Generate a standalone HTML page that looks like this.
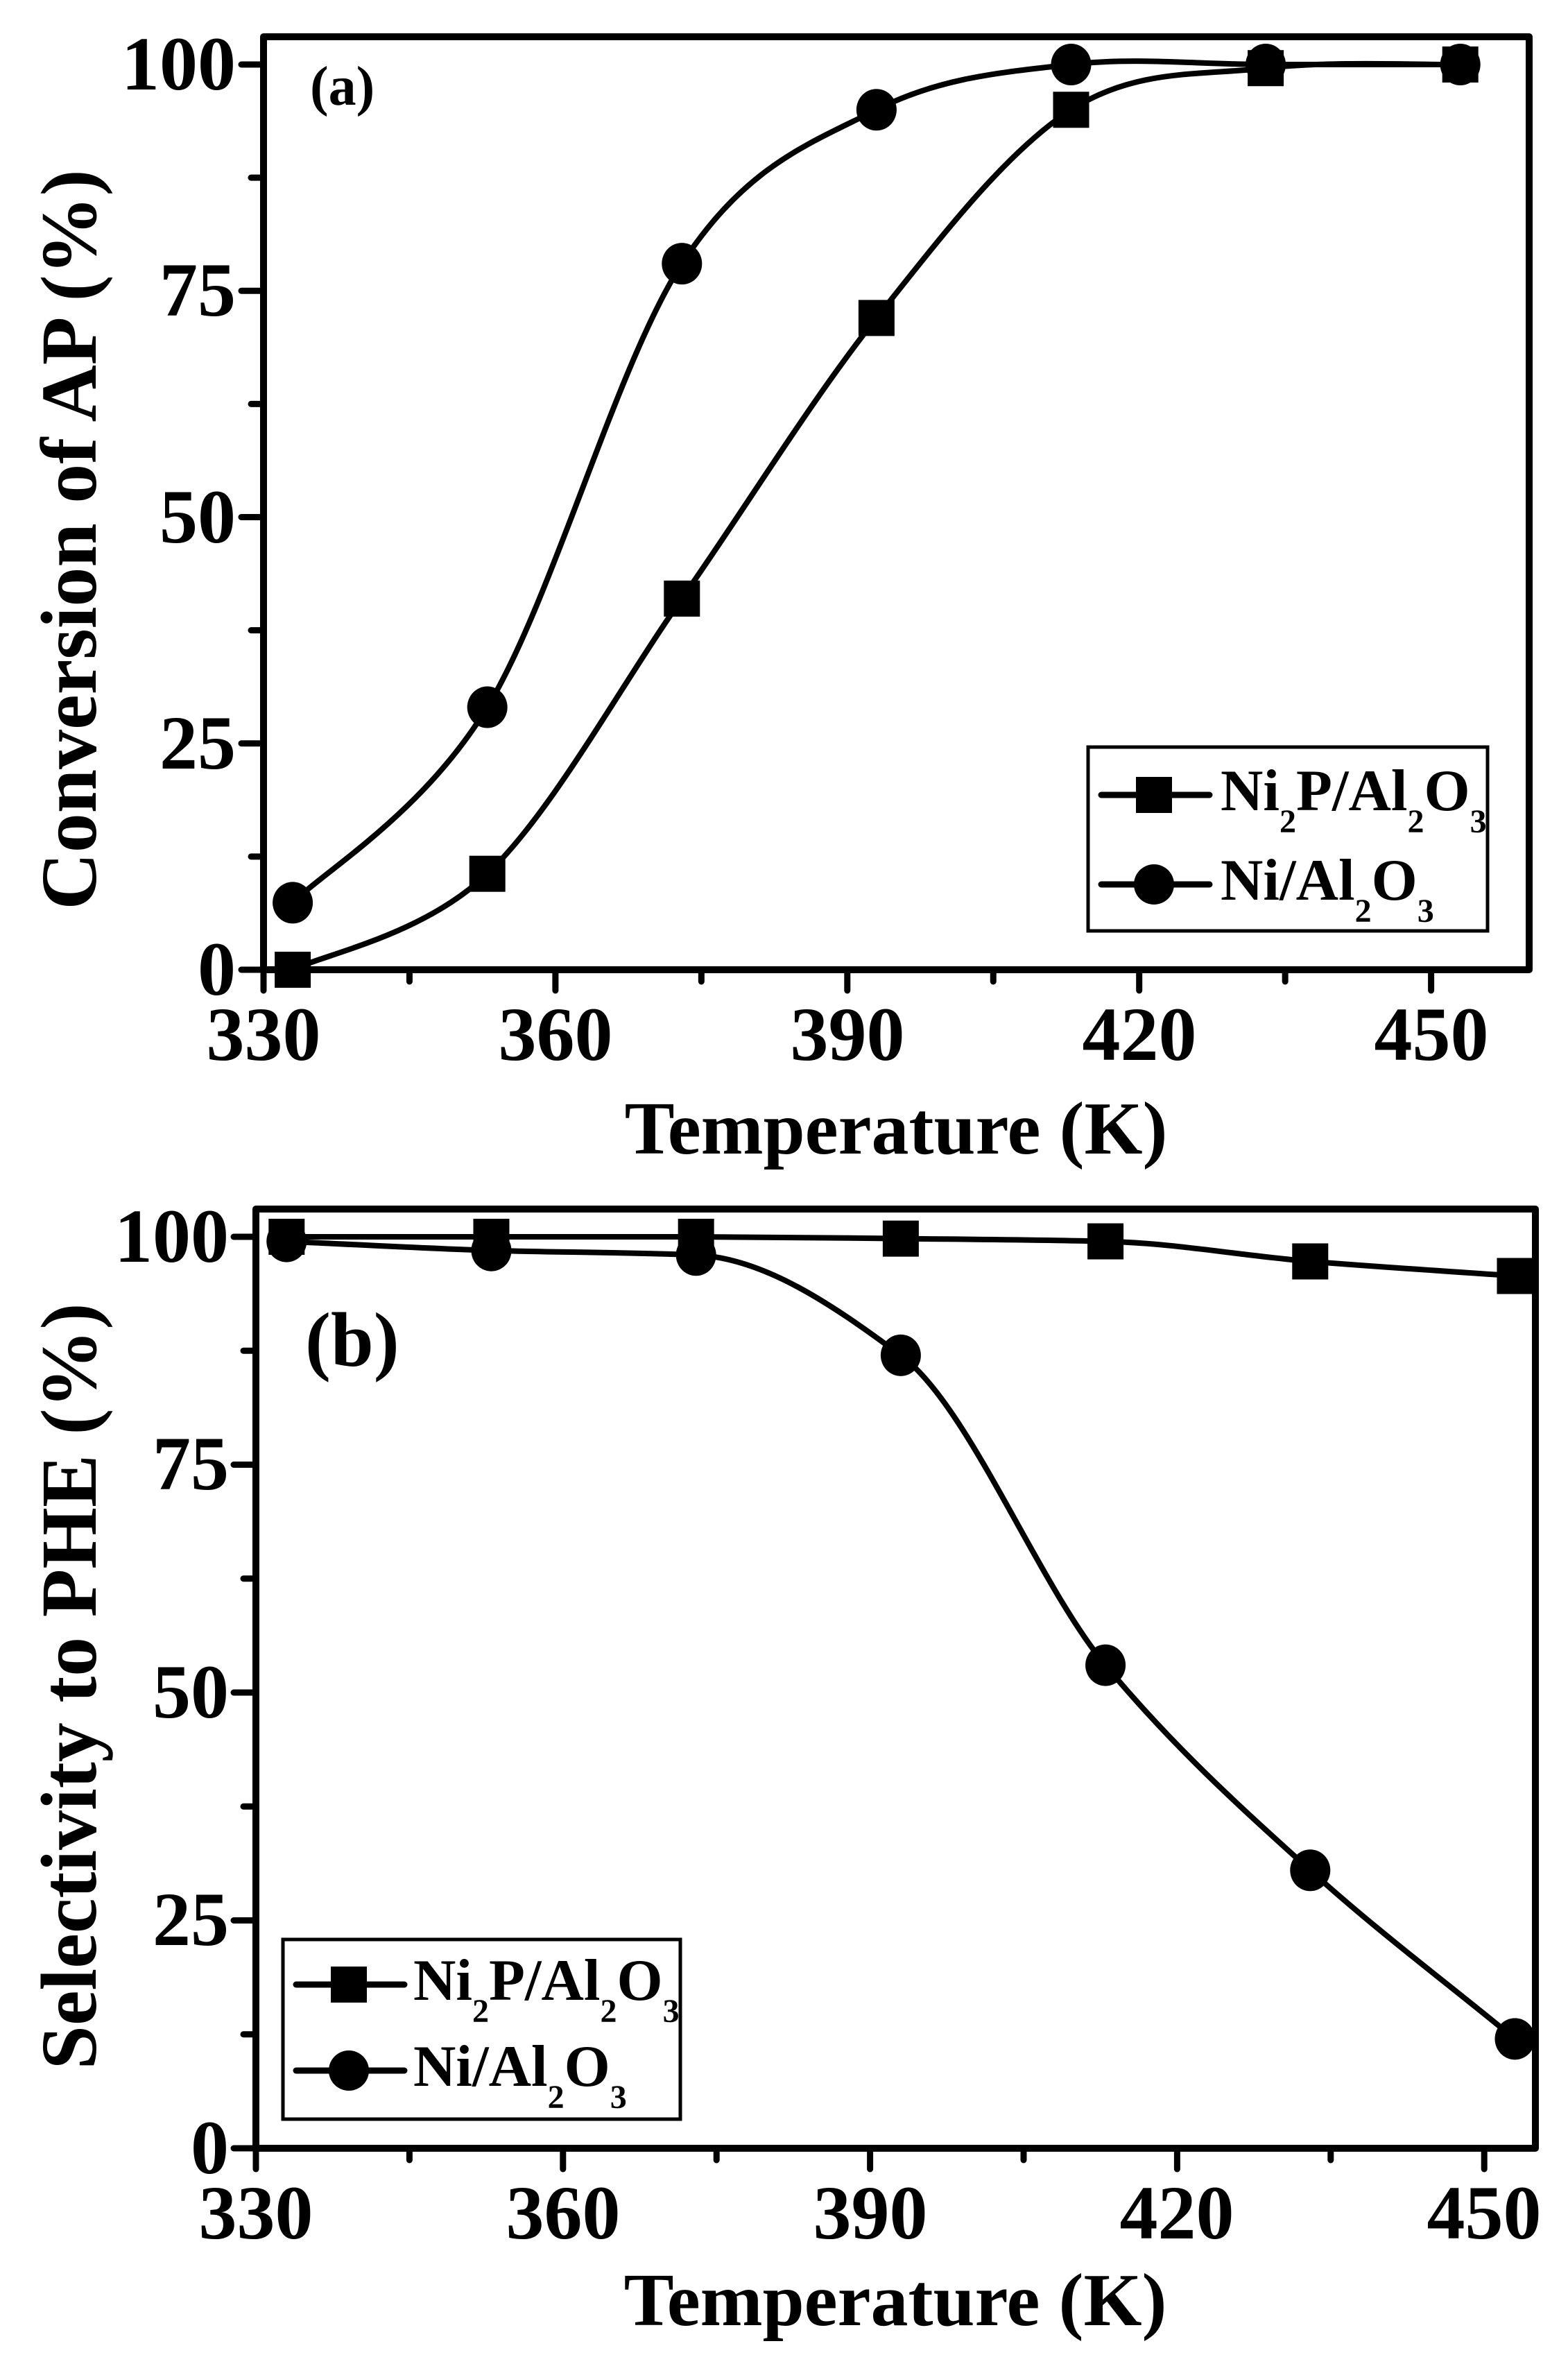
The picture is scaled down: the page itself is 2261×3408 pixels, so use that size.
<!DOCTYPE html>
<html><head><meta charset="utf-8"><style>
html,body{margin:0;padding:0;background:#fff;}
svg{display:block;}
text{font-family:"Liberation Serif","Times New Roman",Times,serif;font-weight:bold;fill:#000;}
</style></head><body>
<svg id="s" width="2261" height="3408" viewBox="0 0 2261 3408" xmlns="http://www.w3.org/2000/svg">
<rect width="2261" height="3408" fill="#fff"/>
<g id="top"></g>
<g id="bot"></g>
<g font-size="110" text-anchor="middle">
<text x="380" y="1528">330</text><text x="801" y="1528">360</text><text x="1222" y="1528">390</text><text x="1643" y="1528">420</text><text x="2064" y="1528">450</text>
</g>
<g font-size="110" text-anchor="end">
<text x="340" y="1434">0</text><text x="340" y="1108">25</text><text x="340" y="782">50</text><text x="340" y="455">75</text><text x="340" y="129">100</text>
</g>
<text x="1292" y="1663" font-size="108" text-anchor="middle">Temperature (K)</text>
<text transform="translate(138,778) rotate(-90)" font-size="114" text-anchor="middle">Conversion of AP (%)</text>
<text x="447" y="151" font-size="80">(a)</text>
<g font-size="110" text-anchor="middle">
<text x="369" y="3227">330</text><text x="812" y="3227">360</text><text x="1255" y="3227">390</text><text x="1697" y="3227">420</text><text x="2140" y="3227">450</text>
</g>
<g font-size="110" text-anchor="end">
<text x="330" y="3133">0</text><text x="330" y="2804">25</text><text x="330" y="2476">50</text><text x="330" y="2147">75</text><text x="330" y="1819">100</text>
</g>
<text x="1291" y="3352" font-size="108" text-anchor="middle">Temperature (K)</text>
<text transform="translate(138,2431) rotate(-90)" font-size="114" text-anchor="middle">Selectivity to PHE (%)</text>
<text x="440" y="1969" font-size="111">(b)</text>
<g transform="translate(1569,1077)">
<rect x="0" y="0" width="576" height="265" fill="#fff" stroke="#000" stroke-width="5"/>
<line x1="19" y1="69" x2="175" y2="69" stroke="#000" stroke-width="9" stroke-linecap="round"/>
<rect x="69" y="43" width="52" height="52" fill="#000"/>
<line x1="19" y1="198" x2="175" y2="198" stroke="#000" stroke-width="9" stroke-linecap="round"/>
<circle cx="95" cy="198" r="29" fill="#000"/>
<text x="191" y="91" font-size="85">Ni<tspan font-size="48" dy="32">2</tspan><tspan dy="-32">P/Al</tspan><tspan font-size="48" dy="32">2</tspan><tspan dy="-32">O</tspan><tspan font-size="48" dy="32">3</tspan></text>
<text x="191" y="220" font-size="85">Ni/Al<tspan font-size="48" dy="32">2</tspan><tspan dy="-32">O</tspan><tspan font-size="48" dy="32">3</tspan></text>
</g>
<g transform="translate(408,2796)">
<rect x="0" y="0" width="573" height="259" fill="#fff" stroke="#000" stroke-width="5"/>
<line x1="19" y1="65" x2="175" y2="65" stroke="#000" stroke-width="9" stroke-linecap="round"/>
<rect x="69" y="39" width="52" height="52" fill="#000"/>
<line x1="19" y1="189" x2="175" y2="189" stroke="#000" stroke-width="9" stroke-linecap="round"/>
<circle cx="95" cy="189" r="29" fill="#000"/>
<text x="188" y="87" font-size="85">Ni<tspan font-size="48" dy="32">2</tspan><tspan dy="-32">P/Al</tspan><tspan font-size="48" dy="32">2</tspan><tspan dy="-32">O</tspan><tspan font-size="48" dy="32">3</tspan></text>
<text x="188" y="211" font-size="85">Ni/Al<tspan font-size="48" dy="32">2</tspan><tspan dy="-32">O</tspan><tspan font-size="48" dy="32">3</tspan></text>
</g>
</svg>
<script>
var NS="http://www.w3.org/2000/svg";
function el(g,n,a){var e=document.createElementNS(NS,n);for(var k in a)e.setAttribute(k,a[k]);g.appendChild(e);return e;}
function cr(p){var d="M"+p[0][0]+","+p[0][1];for(var i=0;i<p.length-1;i++){var p0=p[i-1]||p[i],p1=p[i],p2=p[i+1],p3=p[i+2]||p2;
var c1=[p1[0]+(p2[0]-p0[0])/6,p1[1]+(p2[1]-p0[1])/6],c2=[p2[0]-(p3[0]-p1[0])/6,p2[1]-(p3[1]-p1[1])/6];
d+=" C"+c1[0]+","+c1[1]+" "+c2[0]+","+c2[1]+" "+p2[0]+","+p2[1];}return d;}
function mono(p){var n=p.length,h=[],d=[],m=[];for(var i=0;i<n-1;i++){h[i]=p[i+1][0]-p[i][0];d[i]=(p[i+1][1]-p[i][1])/h[i];}
m[0]=d[0];m[n-1]=d[n-2];for(i=1;i<n-1;i++){if(d[i-1]*d[i]<=0)m[i]=0;else{var w1=2*h[i]+h[i-1],w2=h[i]+2*h[i-1];m[i]=(w1+w2)/(w1/d[i-1]+w2/d[i]);}}
var s="M"+p[0][0]+","+p[0][1];for(i=0;i<n-1;i++){var dx=h[i]/3;s+=" C"+(p[i][0]+dx)+","+(p[i][1]+m[i]*dx)+" "+(p[i+1][0]-dx)+","+(p[i+1][1]-m[i+1]*dx)+" "+p[i+1][0]+","+p[i+1][1];}return s;}
function panel(id,P){var g=document.getElementById(id);
var X=function(t){return P.x0+(t-330)*P.kx;},Y=function(v){return P.y0-v*P.ky;};
var T=[333,353,373,393,413,433,453];
[P.sq,P.ci].forEach(function(s,j){var pts=T.map(function(t,i){return [X(t),Y(s[i])];});
el(g,"path",{d:P.f(pts),fill:"none",stroke:"#000","stroke-width":8});
pts.forEach(function(p){if(j==0)el(g,"rect",{x:p[0]-26,y:p[1]-26,width:52,height:52,fill:"#000"});
else el(g,"ellipse",{cx:p[0],cy:p[1],rx:29,ry:30,fill:"#000"});});});
for(var t=330;t<=P.tmax;t+=15){var x=X(t),L=((t-330)%30==0)?30:17;el(g,"line",{x1:x,y1:P.y0,x2:x,y2:P.y0+L,stroke:"#000","stroke-width":9,"stroke-linecap":"round"});}
for(var v=0;v<=100;v+=12.5){var y=Y(v),L=(v%25==0)?32:18;el(g,"line",{x1:P.x0,y1:y,x2:P.x0-L,y2:y,stroke:"#000","stroke-width":9,"stroke-linecap":"round"});}
el(g,"rect",{x:P.x0,y:P.top,width:P.right-P.x0,height:P.y0-P.top,fill:"none",stroke:"#000","stroke-width":10,"stroke-linejoin":"round"});
}
panel("top",{f:cr,x0:380,kx:14.03,y0:1398,ky:13.05,top:53,right:2205,tmax:455,
 sq:[0,10.6,41,72,95,99.6,100],ci:[7.4,29,78,95,100,100,100]});
panel("bot",{f:mono,x0:369,kx:14.76,y0:3097,ky:13.14,top:1743,right:2214,tmax:450,
 sq:[100,100,100,99.8,99.5,97.3,95.7],ci:[99.5,98.5,98,87,53,30.5,12]});
</script>
</body></html>
